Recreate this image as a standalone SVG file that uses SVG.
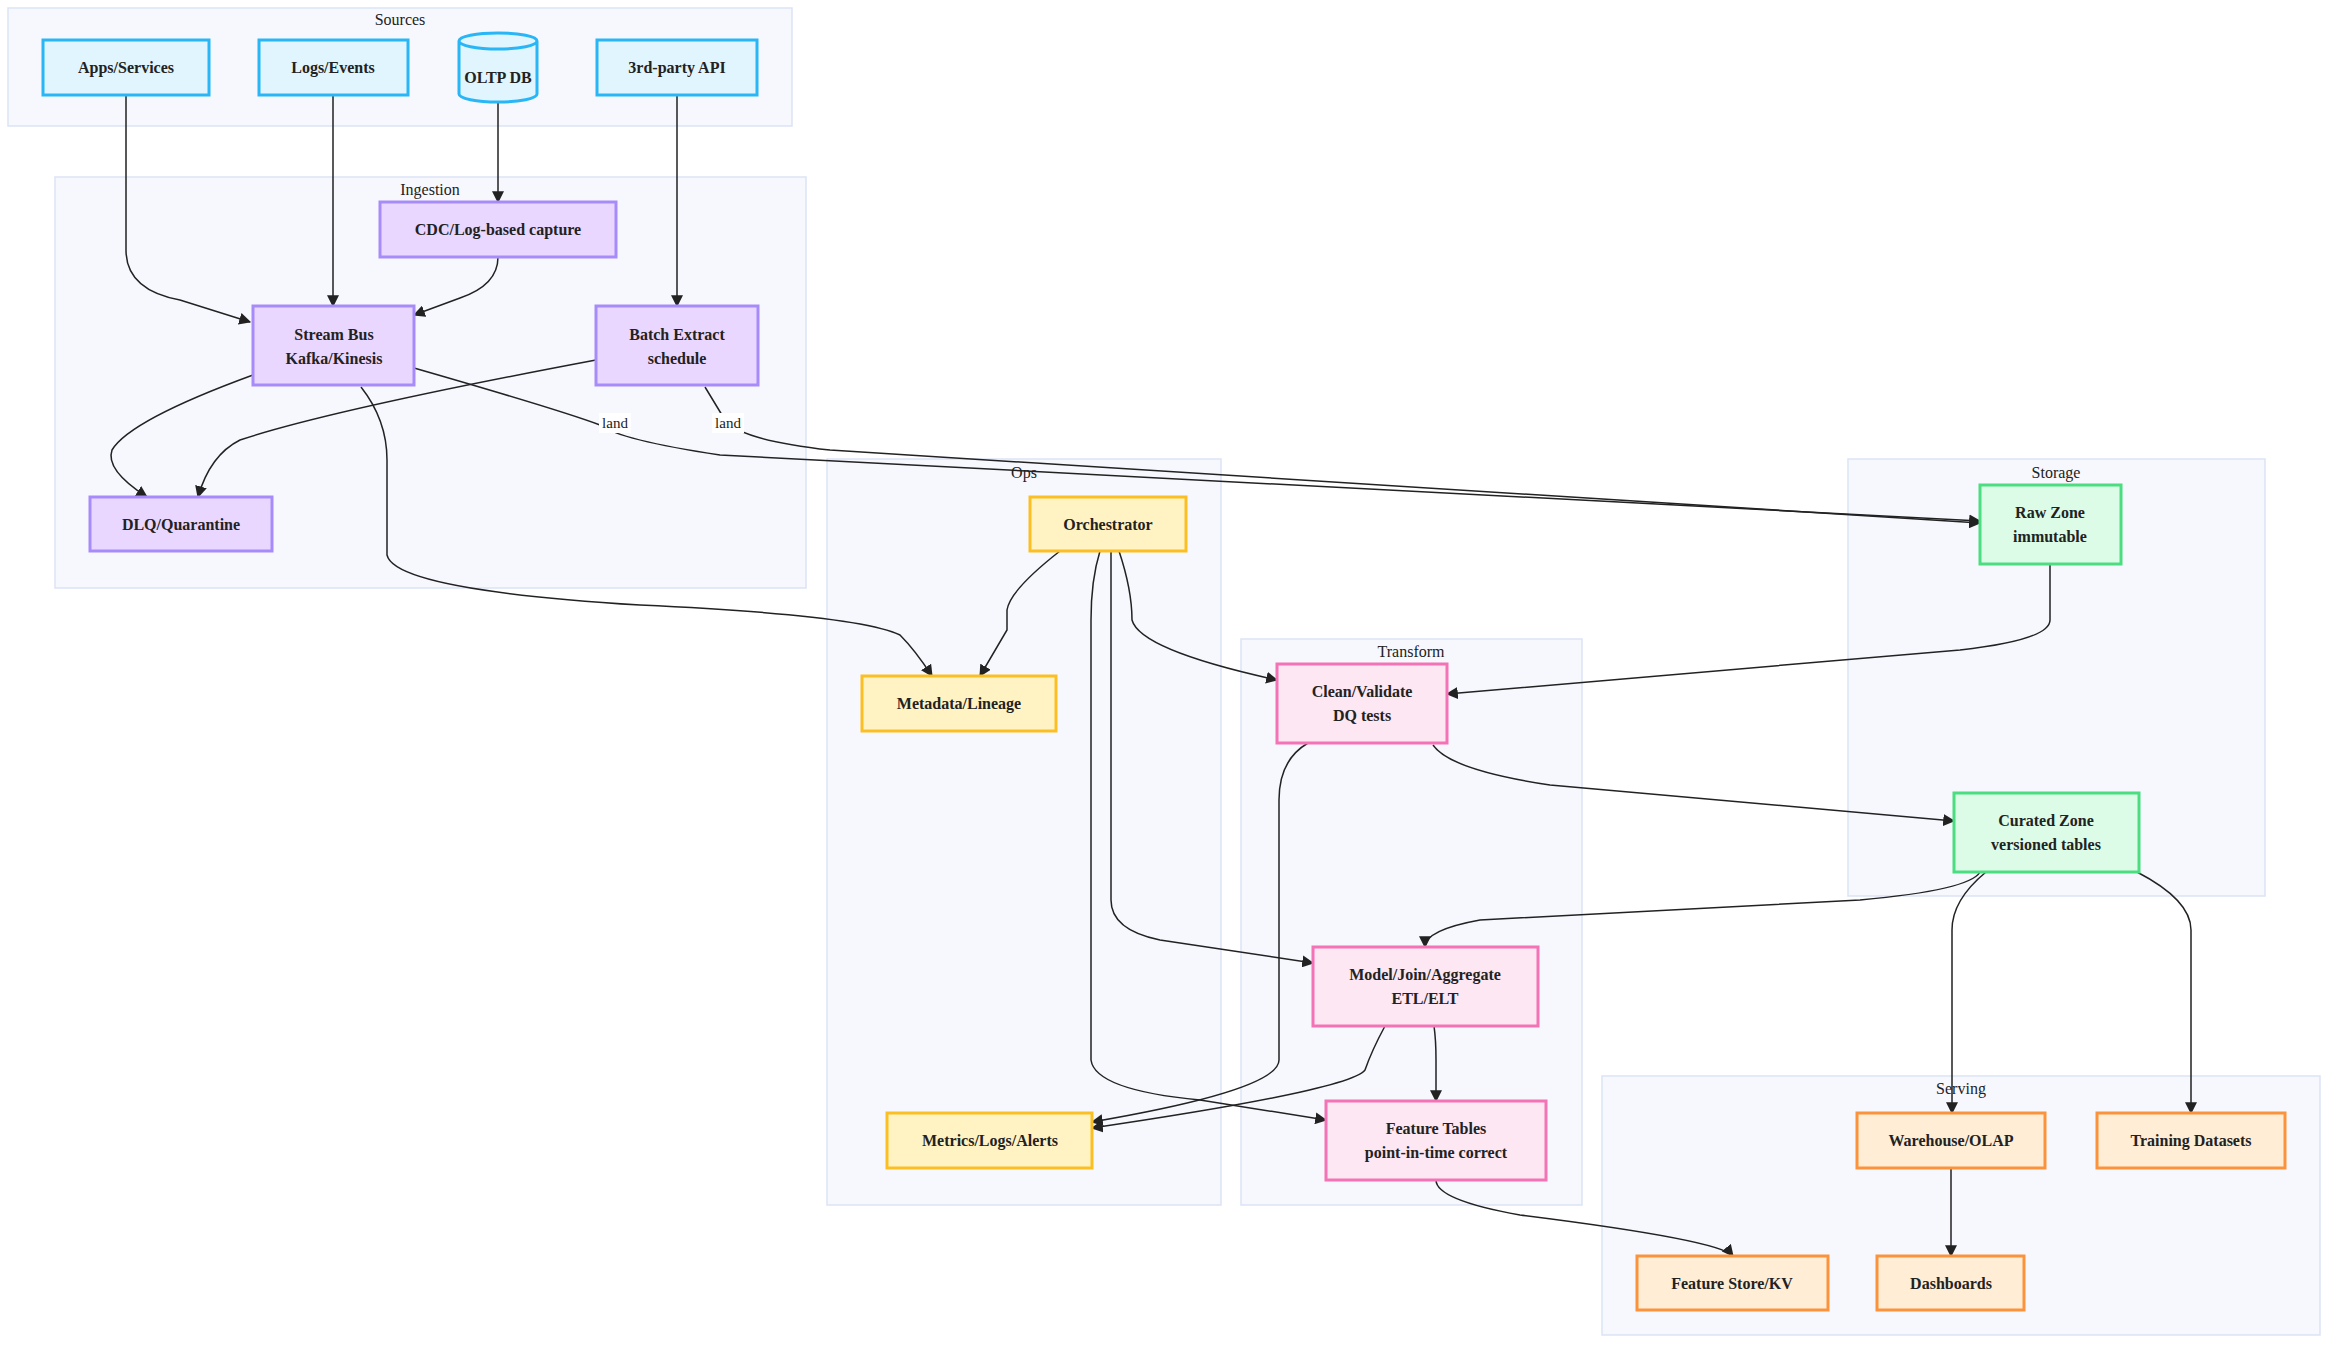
<svg xmlns="http://www.w3.org/2000/svg" width="2352" height="1359" viewBox="0 0 2352 1359">
<style>
text{font-family:"Liberation Serif","Times New Roman",serif;fill:#222}
.cl{fill:#f7f8fd;stroke:#dbe3f5;stroke-width:1.5}
.ct{font-size:16px;text-anchor:middle}
.n{stroke-width:3}
.t{font-size:16px;font-weight:bold;text-anchor:middle}
.src{fill:#e1f5fe;stroke:#29b6f6}
.ing{fill:#ead7ff;stroke:#a78bfa}
.ops{fill:#fff3c4;stroke:#fbbf24}
.trf{fill:#fce7f3;stroke:#f472b6}
.sto{fill:#dcfce7;stroke:#4ade80}
.srv{fill:#ffedd5;stroke:#fb923c}
.e{fill:none;stroke:#222;stroke-width:1.5;marker-end:url(#a)}
.lb{font-size:15px;text-anchor:middle}
</style>
<defs><marker id="a" viewBox="0 0 10 10" refX="9" refY="5" markerWidth="8" markerHeight="8" orient="auto"><path d="M0,0L10,5L0,10z" fill="#222"/></marker></defs>
<g id="clusters">
<rect class="cl" x="8" y="8" width="784" height="118"/><text class="ct" x="400" y="25">Sources</text>
<rect class="cl" x="55" y="177" width="751" height="411"/><text class="ct" x="430" y="195">Ingestion</text>
<rect class="cl" x="827" y="459" width="394" height="746"/><text class="ct" x="1024" y="478">Ops</text>
<rect class="cl" x="1241" y="639" width="341" height="566"/><text class="ct" x="1411" y="657">Transform</text>
<rect class="cl" x="1848" y="459" width="417" height="437"/><text class="ct" x="2056" y="478">Storage</text>
<rect class="cl" x="1602" y="1076" width="718" height="259"/><text class="ct" x="1961" y="1094">Serving</text>
</g>
<g id="edges">
<path class="e" d="M126,95V250Q126,290 180,300L250,322"/>
<path class="e" d="M333,95V306"/>
<path class="e" d="M498,102V202"/>
<path class="e" d="M498,257Q498,285 460,298L414,315"/>
<path class="e" d="M677,95V306"/>
<path class="e" d="M253,375Q130,420 112,450Q105,470 147,497"/>
<path class="e" d="M596,360Q330,410 240,440Q210,455 198,497"/>
<path class="e" d="M414,368Q560,410 600,425Q620,440 720,455L1980,521"/>
<path class="e" d="M705,387L725,420Q740,440 830,450L1980,523"/>
<path class="e" d="M361,387Q387,420 387,460V555Q395,590 640,605Q860,615 900,635Q915,650 932,676"/>
<path class="e" d="M1060,551Q1010,590 1007,610V630L980,676"/>
<path class="e" d="M1119,551Q1132,590 1132,620Q1140,650 1277,680"/>
<path class="e" d="M1111,551V900Q1111,930 1160,940L1313,963"/>
<path class="e" d="M1100,551Q1091,580 1091,620V1060Q1095,1090 1200,1100L1326,1120"/>
<path class="e" d="M2050,564V620Q2050,640 1960,650L1447,694"/>
<path class="e" d="M1433,745Q1450,770 1550,785L1954,821"/>
<path class="e" d="M1308,743Q1279,760 1279,800V1060Q1279,1090 1092,1122"/>
<path class="e" d="M1980,872Q1970,890 1860,900L1480,920Q1425,930 1425,947"/>
<path class="e" d="M1986,872Q1952,900 1952,930V1113"/>
<path class="e" d="M2137,872Q2191,900 2191,930V1113"/>
<path class="e" d="M1385,1026Q1372,1050 1365,1070Q1350,1090 1092,1128"/>
<path class="e" d="M1434,1026Q1436,1040 1436,1060V1101"/>
<path class="e" d="M1436,1180Q1436,1200 1520,1215Q1720,1240 1733,1256"/>
<path class="e" d="M1951,1168V1256"/>
<rect x="599" y="413" width="32" height="20" fill="#fff"/><text class="lb" x="615" y="428">land</text>
<rect x="712" y="413" width="32" height="20" fill="#fff"/><text class="lb" x="728" y="428">land</text>
</g>
<g id="apps"><rect class="n src" x="43" y="40" width="166" height="55"/><text class="t" x="126" y="73">Apps/Services</text></g>
<g id="logs"><rect class="n src" x="259" y="40" width="149" height="55"/><text class="t" x="333" y="73">Logs/Events</text></g>
<g id="oltp"><path class="n src" d="M459,41V94A39,8 0 0 0 537,94V41A39,8 0 0 0 459,41A39,8 0 0 0 537,41"/><text class="t" x="498" y="83">OLTP DB</text></g>
<g id="api"><rect class="n src" x="597" y="40" width="160" height="55"/><text class="t" x="677" y="73">3rd-party API</text></g>
<g id="cdc"><rect class="n ing" x="380" y="202" width="236" height="55"/><text class="t" x="498" y="235">CDC/Log-based capture</text></g>
<g id="stream"><rect class="n ing" x="253" y="306" width="161" height="79"/><text class="t" x="334" y="340">Stream Bus</text><text class="t" x="334" y="364">Kafka/Kinesis</text></g>
<g id="batch"><rect class="n ing" x="596" y="306" width="162" height="79"/><text class="t" x="677" y="340">Batch Extract</text><text class="t" x="677" y="364">schedule</text></g>
<g id="dlq"><rect class="n ing" x="90" y="497" width="182" height="54"/><text class="t" x="181" y="530">DLQ/Quarantine</text></g>
<g id="orch"><rect class="n ops" x="1030" y="497" width="156" height="54"/><text class="t" x="1108" y="530">Orchestrator</text></g>
<g id="meta"><rect class="n ops" x="862" y="676" width="194" height="55"/><text class="t" x="959" y="709">Metadata/Lineage</text></g>
<g id="metrics"><rect class="n ops" x="887" y="1113" width="205" height="55"/><text class="t" x="990" y="1146">Metrics/Logs/Alerts</text></g>
<g id="clean"><rect class="n trf" x="1277" y="664" width="170" height="79"/><text class="t" x="1362" y="697">Clean/Validate</text><text class="t" x="1362" y="721">DQ tests</text></g>
<g id="model"><rect class="n trf" x="1313" y="947" width="225" height="79"/><text class="t" x="1425" y="980">Model/Join/Aggregate</text><text class="t" x="1425" y="1004">ETL/ELT</text></g>
<g id="feat"><rect class="n trf" x="1326" y="1101" width="220" height="79"/><text class="t" x="1436" y="1134">Feature Tables</text><text class="t" x="1436" y="1158">point-in-time correct</text></g>
<g id="raw"><rect class="n sto" x="1980" y="485" width="141" height="79"/><text class="t" x="2050" y="518">Raw Zone</text><text class="t" x="2050" y="542">immutable</text></g>
<g id="curated"><rect class="n sto" x="1954" y="793" width="185" height="79"/><text class="t" x="2046" y="826">Curated Zone</text><text class="t" x="2046" y="850">versioned tables</text></g>
<g id="wh"><rect class="n srv" x="1857" y="1113" width="188" height="55"/><text class="t" x="1951" y="1146">Warehouse/OLAP</text></g>
<g id="train"><rect class="n srv" x="2097" y="1113" width="188" height="55"/><text class="t" x="2191" y="1146">Training Datasets</text></g>
<g id="fstore"><rect class="n srv" x="1637" y="1256" width="191" height="54"/><text class="t" x="1732" y="1289">Feature Store/KV</text></g>
<g id="dash"><rect class="n srv" x="1877" y="1256" width="147" height="54"/><text class="t" x="1951" y="1289">Dashboards</text></g>
</svg>
